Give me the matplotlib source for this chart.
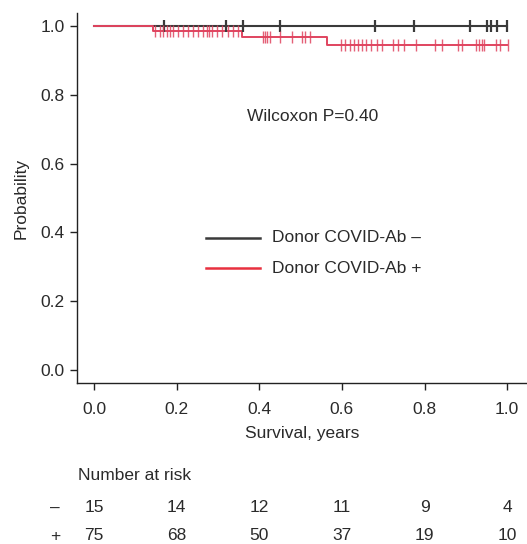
import matplotlib
matplotlib.use('Agg')
import matplotlib.pyplot as plt
import numpy as np

plt.rcParams['font.family'] = ['Liberation Sans', 'DejaVu Sans']

# Kaplan-Meier steps
neg_times = [0.0, 1.0]
neg_surv = [1.0, 1.0]
neg_censor = [0.17, 0.32, 0.36, 0.45, 0.68, 0.775, 0.91, 0.95, 0.96, 0.975, 1.0]

pos_times = [0.0, 0.143, 0.358, 0.564, 1.0]
pos_surv = [1.0, 0.987, 0.969, 0.944, 0.944]
pos_censor = [0.148, 0.160, 0.167, 0.177, 0.184, 0.191, 0.203, 0.215, 0.228,
              0.240, 0.252, 0.264, 0.274, 0.278, 0.286, 0.298, 0.310, 0.324,
              0.337, 0.349, 0.409, 0.414, 0.419, 0.426, 0.450, 0.479, 0.504,
              0.511, 0.523, 0.598, 0.608, 0.620, 0.630, 0.639, 0.649, 0.659,
              0.671, 0.685, 0.697, 0.724, 0.736, 0.751, 0.780, 0.826, 0.843,
              0.881, 0.891, 0.925, 0.932, 0.939, 0.944, 0.973, 0.983, 1.002]

risk_x = [0.0, 0.2, 0.4, 0.6, 0.8, 1.0]
risk_neg = [15, 14, 12, 11, 9, 4]
risk_pos = [75, 68, 50, 37, 19, 10]

black = '#3a3a3a'
red = '#e0445f'
txt = '#2a2a2a'


def surv_at(t, times, surv):
    idx = np.searchsorted(times, t, side='right') - 1
    return np.array(surv)[idx]


fig = plt.figure(figsize=(5.27, 5.44), dpi=100)
ax = fig.add_axes([0.147, 0.296, 0.853, 0.680])

ax.step(neg_times, neg_surv, where='post', color=black, lw=1.5)
ax.step(pos_times, pos_surv, where='post', color=red, lw=1.4)
ax.plot(neg_censor, surv_at(neg_censor, neg_times, neg_surv), '|',
        color=black, ms=9, mew=1.6)
ax.plot(pos_censor, surv_at(pos_censor, pos_times, pos_surv), '|',
        color=red, ms=9, mew=1.0, alpha=0.85)

ax.set_xlim(-0.04, 1.048)
ax.set_ylim(-0.038, 1.038)
ax.set_xticks(risk_x)
ax.set_yticks([0.0, 0.2, 0.4, 0.6, 0.8, 1.0])
ax.set_xticklabels(['%.1f' % v for v in risk_x])
ax.set_yticklabels(['%.1f' % v for v in [0.0, 0.2, 0.4, 0.6, 0.8, 1.0]])
for s in ['top', 'right']:
    ax.spines[s].set_visible(False)
for s in ['left', 'bottom']:
    ax.spines[s].set_color('#222222')
    ax.spines[s].set_linewidth(1.0)
ax.tick_params(direction='out', length=5, width=1.0, colors='#222222',
               labelsize=12.5, pad=9, labelcolor=txt)
ax.tick_params(axis='y', pad=4)
ax.set_xlabel('Survival, years', fontsize=12.5, color=txt, labelpad=6)
ax.set_ylabel('Probability', fontsize=12.5, color=txt, labelpad=9)

ax.text(0.53, 0.738, 'Wilcoxon P=0.40', ha='center', va='center',
        fontsize=12.5, color=txt)

ax.plot([0.27, 0.402], [0.384, 0.384], color=black, lw=1.8)
ax.plot([0.27, 0.402], [0.296, 0.296], color='#e8303f', lw=1.8)
ax.text(0.43, 0.384, 'Donor COVID-Ab \u2013', va='center', fontsize=12.5,
        color=txt)
ax.text(0.43, 0.296, 'Donor COVID-Ab +', va='center', fontsize=12.5,
        color=txt)

# number at risk table
def fig_y(py):
    return 1 - py / 544.0

fig.text(78 / 527, fig_y(476), 'Number at risk', va='center', fontsize=12.5,
         color=txt)
for label, row, py in [('\u2013', risk_neg, 508), ('+', risk_pos, 536)]:
    fig.text(55 / 527, fig_y(py), label, ha='center', va='center',
             fontsize=12.5, color=txt)
    for x, n in zip(risk_x, row):
        xf = fig.transFigure.inverted().transform(
            ax.transData.transform((x, 0)))[0]
        fig.text(xf, fig_y(py), str(n), ha='center', va='center',
                 fontsize=12.5, color=txt)

fig.savefig('out.png', dpi=100)
